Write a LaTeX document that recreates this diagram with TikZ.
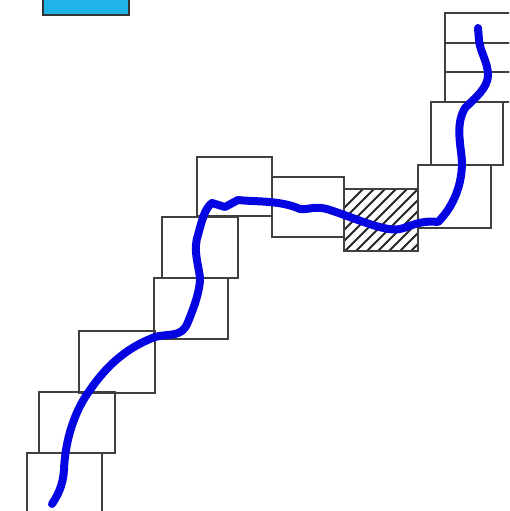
\documentclass[tikz,border=0pt]{standalone}
\begin{document}
\begin{tikzpicture}[x=1pt,y=-1pt,
  cell/.style={draw=black!75, line width=1.4pt, inner sep=0pt, fill=none},
  route/.style={draw={rgb,255:red,5;green,5;blue,225}, line width=8pt, line cap=round, line join=round},
  hatchline/.style={draw=black!85, line width=2pt}]
\useasboundingbox (0,0) rectangle (509,511);
\clip (0,0) rectangle (509,511);
% cyan legend box
\node[draw=black!80, line width=1.3pt, fill={rgb,255:red,30;green,180;blue,232}, inner sep=0pt,
  minimum width=86pt, minimum height=19pt] (legend) at (86,5.5) {};
% cells along route
\node[cell, minimum width=75pt, minimum height=62pt] (c1) at (64.5,484) {};
\node[cell, minimum width=76pt, minimum height=61pt] (c2) at (77,422.5) {};
\node[cell, minimum width=76pt, minimum height=62pt] (c3) at (117,362) {};
\node[cell, minimum width=74pt, minimum height=61pt] (c4) at (191,308.5) {};
\node[cell, minimum width=76pt, minimum height=61pt] (c5) at (200,247.5) {};
\node[cell, minimum width=75pt, minimum height=59pt] (c6) at (234.5,186.5) {};
\node[cell, minimum width=72pt, minimum height=60pt] (c7) at (308,207) {};
\node[cell, minimum width=74pt, minimum height=62pt] (c8) at (381,220) {};
\node[cell, minimum width=73pt, minimum height=63pt] (c9) at (454.5,196.5) {};
\node[cell, minimum width=72pt, minimum height=63pt] (c10) at (467,133.5) {};
\node[cell, minimum width=70pt, minimum height=30pt] (c11) at (480,87) {};
\node[cell, minimum width=70pt, minimum height=29pt] (c12) at (480,57.5) {};
\node[cell, minimum width=70pt, minimum height=30pt] (c13) at (480,28) {};
% hatching of c8
\begin{scope}
  \clip (c8.south west) rectangle (c8.north east);
  \foreach \i in {0,...,13} {
    \draw[hatchline] ({290+\i*11},262) -- ({372+\i*11},180);
  }
\end{scope}
\node[cell, minimum width=74pt, minimum height=62pt] at (c8) {};
% route
\draw[route] (52,504) .. controls (58,495) and (63,485) .. (64,470)
  .. controls (65,440) and (75,410) .. (90,390)
  .. controls (105,368) and (125,348) .. (155,337)
  .. controls (170,333) and (182,338) .. (188,322)
  .. controls (195,305) and (200,290) .. (200,278)
  .. controls (198,262) and (193,250) .. (198,235)
  .. controls (202,220) and (205,208) .. (212,203)
  -- (225,207) -- (238,200)
  .. controls (255,202) and (280,200) .. (300,209)
  .. controls (310,210) and (315,205) .. (330,210)
  .. controls (360,220) and (385,232) .. (400,229)
  .. controls (410,227) and (418,220) .. (438,222)
  .. controls (450,210) and (462,190) .. (462,162)
  .. controls (461,145) and (455,125) .. (465,108)
  .. controls (475,98) and (488,88) .. (488,75)
  .. controls (488,62) and (480,52) .. (479,40)
  -- (478,28);
\end{tikzpicture}
\end{document}
